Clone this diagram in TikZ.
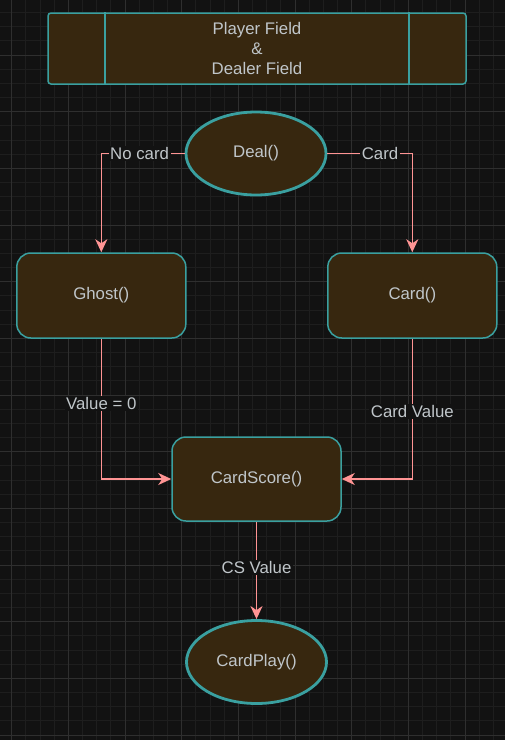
\documentclass[tikz,border=0pt]{standalone}
\usepackage{fontspec}
\setmainfont{Liberation Sans}
\usetikzlibrary{arrows.meta,shapes.geometric}
\definecolor{bgc}{HTML}{121212}
\definecolor{minorc}{HTML}{1E1E1E}
\definecolor{majorc}{HTML}{2F2F2F}
\definecolor{fillc}{HTML}{37270F}
\definecolor{strokec}{HTML}{3AA0A0}
\definecolor{edgec}{HTML}{FF9494}
\definecolor{textc}{HTML}{C0C6CA}
\tikzset{
  every node/.style={font=\fontsize{16.8}{20.2}\selectfont, text=textc},
  procbox/.style={draw=strokec, fill=fillc, line width=1.5pt, rounded corners=14pt, minimum width=169pt, minimum height=85pt, inner sep=0pt},
  ovalbox/.style={ellipse, draw=strokec, fill=fillc, line width=2.8pt, minimum width=140pt, minimum height=83pt, inner sep=0pt},
  topbox/.style={draw=strokec, fill=fillc, line width=1.5pt, rounded corners=3pt, minimum width=418pt, minimum height=71pt, inner sep=0pt, align=center},
  flow/.style={draw=edgec, line width=1.6pt, -{Stealth[length=13pt,width=12pt,inset=4pt]}},
  elabel/.style={fill=bgc, inner sep=1.5pt},
  minorline/.style={draw=minorc, line width=0.8pt},
  majorline/.style={draw=majorc, line width=0.8pt}
}
\begin{document}
\begin{tikzpicture}[x=1pt,y=-1pt]
\useasboundingbox (0,0) rectangle (505,740);
\fill[bgc] (0,0) rectangle (505,740);
\begin{scope}
\clip (0,0) rectangle (505,740);
\foreach \i in {0,...,37} { \draw[minorline] ({11.7+14.1667*(\i-1)},0) -- ++(0,740); }
\foreach \j in {0,...,53} { \draw[minorline] (0,{-1.67+14.1667*\j}) -- ++(505,0); }
\foreach \i in {0,...,9} { \draw[majorline] ({11.7+56.667*\i},0) -- ++(0,740); }
\foreach \j in {0,...,13} { \draw[majorline] (0,{-1.67+56.667*\j}) -- ++(505,0); }
\end{scope}

\node[topbox] (top) at (257,48.5) {Player Field\\\&\\Dealer Field};
\draw[draw=strokec, line width=1.5pt] ([xshift=57.7pt]top.north west) -- ([xshift=57.7pt]top.south west);
\draw[draw=strokec, line width=1.5pt] ([xshift=-58pt]top.north east) -- ([xshift=-58pt]top.south east);

\node[ovalbox] (deal) at (256,153.5) {Deal()};
\node[procbox] (ghost) at (101.3,295.5) {Ghost()};
\node[procbox] (card) at (412.3,295.5) {Card()};
\node[procbox, minimum height=84pt] (score) at (256.5,479) {CardScore()};
\node[ovalbox] (play) at (256.5,662) {CardPlay()};

\draw[flow] (deal.west) -| node[elabel, pos=0.27] {No card} (ghost.north);
\draw[flow] (deal.east) -| node[elabel, pos=0.31] {Card} (card.north);
\draw[flow] (ghost.south) |- node[elabel, pos=0.23] {Value = 0} (score.west);
\draw[flow] (card.south) |- node[elabel, pos=0.26] {Card Value} (score.east);
\draw[flow] (score.south) -- node[elabel, pos=0.47] {CS Value} (play.north);
\end{tikzpicture}
\end{document}
